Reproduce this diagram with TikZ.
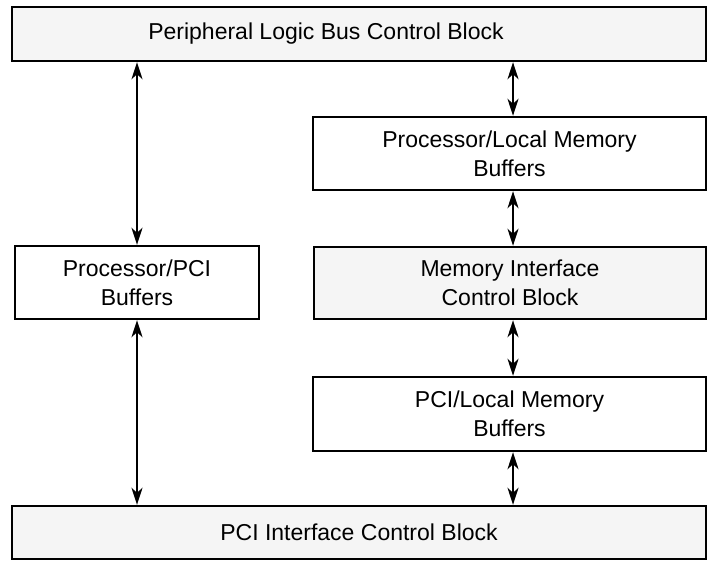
\documentclass[tikz,border=0pt]{standalone}
\usepackage{fontspec}
\setmainfont{Liberation Sans}
\usepackage{tikz}
\usetikzlibrary{arrows.meta,positioning,calc}
\definecolor{blockfill}{RGB}{245,245,245}
\definecolor{blockline}{RGB}{0,0,0}

\begin{document}
\begin{tikzpicture}[x=1pt, y=-1pt,
    font=\fontsize{23}{29}\selectfont,
    block/.style={draw=blockline, line width=2.4pt, fill=white,
                  align=center, inner sep=0pt},
    grayblock/.style={block, fill=blockfill},
    link/.style={{Stealth[length=17pt,width=11pt,inset=5pt]}-{Stealth[length=17pt,width=11pt,inset=5pt]},
                 line width=2pt}]
  \useasboundingbox (0,0) rectangle (708,560);
  % blocks
  \node[grayblock, minimum width=694pt, minimum height=54pt] (plb) at (359,34)
    {\hspace*{-66pt}Peripheral Logic Bus Control Block};
  \node[block, minimum width=393pt, minimum height=73pt] (plmbuf) at (509.5,153.5)
    {Processor/Local Memory\\Buffers};
  \node[grayblock, minimum width=392pt, minimum height=72pt] (mic) at (510,283)
    {Memory Interface\\Control Block};
  \node[block, minimum width=393pt, minimum height=74pt] (pcilmbuf) at (509.5,414)
    {PCI/Local Memory\\Buffers};
  \node[block, minimum width=244pt, minimum height=73pt] (ppcibuf) at (137,282.5)
    {Processor/PCI\\Buffers};
  \node[grayblock, minimum width=694pt, minimum height=53pt] (pcic) at (359,532.5)
    {PCI Interface Control Block};
  % connections
  \draw[link] (ppcibuf.north) -- (ppcibuf.north |- plb.south);
  \draw[link] (ppcibuf.south) -- (ppcibuf.south |- pcic.north);
  \draw[link] ($(plmbuf.north)+(3.5,0)$) -- ($(plmbuf.north |- plb.south)+(3.5,0)$);
  \draw[link] ($(plmbuf.south)+(3.5,0)$) -- ($(plmbuf.south |- mic.north)+(3.5,0)$);
  \draw[link] ($(mic.south)+(3,0)$) -- ($(mic.south |- pcilmbuf.north)+(3,0)$);
  \draw[link] ($(pcilmbuf.south)+(3.5,0)$) -- ($(pcilmbuf.south |- pcic.north)+(3.5,0)$);
\end{tikzpicture}
\end{document}
